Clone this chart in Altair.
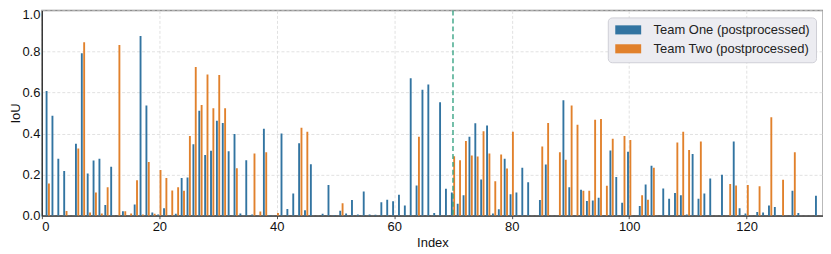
import altair as alt
import pandas as pd

series_names = ["Team One (postprocessed)", "Team Two (postprocessed)"]
colors = ["#3274a1", "#e1812c"]
x_ticks = [0, 20, 40, 60, 80, 100, 120]
y_ticks = [0.0, 0.2, 0.4, 0.6, 0.8, 1.0]
split_index = [70]

team_one = [
    0, 0.607, 0.487, 0.277, 0.218, 0, 0.35, 0.791, 0.205, 0.269,
    0.277, 0.052, 0.238, 0, 0.021, 0, 0.055, 0.875, 0.537, 0.016,
    0.006, 0.036, 0, 0.010, 0.183, 0.186, 0.348, 0.511, 0.296, 0.316,
    0.463, 0.451, 0.314, 0.398, 0.011, 0.27, 0.006, 0, 0.424, 0.003,
    0, 0.40, 0.032, 0.108, 0.353, 0.026, 0.251, 0, 0.01, 0.15,
    0.003, 0.024, 0.011, 0.076, 0.006, 0.118, 0.006, 0.005, 0.065, 0.078,
    0.07, 0.102, 0.05, 0.67, 0.147, 0.613, 0.639, 0.013, 0.553, 0.131,
    0.113, 0.058, 0.099, 0.385, 0.45, 0.176, 0.439, 0.011, 0.031, 0.278,
    0.104, 0.113, 0.233, 0.163, 0, 0.076, 0.249, 0, 0, 0.563,
    0.138, 0, 0.126, 0.071, 0.074, 0.087, 0, 0.317, 0.188, 0.063,
    0.312, 0, 0.047, 0.152, 0.243, 0, 0.133, 0.083, 0.11, 0.1,
    0.006, 0.301, 0.083, 0.108, 0.181, 0, 0.2, 0, 0.362, 0.036,
    0.011, 0, 0.018, 0.016, 0.05, 0.042, 0.003, 0, 0.121, 0.013,
    0, 0, 0.097,
]
team_two = [
    0, 0.157, 0, 0, 0.023, 0, 0.327, 0.845, 0.016, 0.113,
    0.011, 0.138, 0, 0.832, 0.021, 0.011, 0.173, 0.006, 0.262, 0.010,
    0.222, 0.184, 0.123, 0.138, 0.121, 0.388, 0.725, 0.539, 0.688, 0.524,
    0.686, 0.524, 0, 0.231, 0, 0, 0.303, 0.02, 0.309, 0,
    0.013, 0, 0, 0, 0.429, 0.409, 0, 0, 0, 0,
    0, 0.061, 0, 0, 0, 0, 0, 0, 0, 0,
    0, 0, 0, 0, 0.385, 0, 0, 0, 0, 0,
    0.29, 0.27, 0.364, 0.293, 0.288, 0.411, 0.303, 0.168, 0.298, 0.23,
    0.409, 0, 0, 0, 0, 0.337, 0.451, 0, 0.309, 0.272,
    0.537, 0.443, 0.121, 0.121, 0.468, 0.471, 0.146, 0.375, 0, 0.388,
    0.369, 0, 0.099, 0.078, 0.233, 0, 0, 0, 0.356, 0.409,
    0.32, 0, 0.362, 0, 0, 0, 0, 0.154, 0.147, 0,
    0.15, 0, 0.144, 0, 0.48, 0, 0.175, 0, 0.309, 0,
    0, 0, 0,
]

rows = []
for i, (a, b) in enumerate(zip(team_one, team_two)):
    rows.append({"idx": i, "team": series_names[0], "iou": a})
    rows.append({"idx": i, "team": series_names[1], "iou": b})
df = pd.DataFrame(rows)

FONT = "Liberation Sans"

bars = (
    alt.Chart(df)
    .transform_filter("datum.iou > 0")
    .transform_calculate(
        off=f"datum.team == '{series_names[0]}' ? -0.2 : 0.2"
    )
    .transform_calculate(x0="datum.idx + datum.off - 0.16", x1="datum.idx + datum.off + 0.16")
    .mark_bar(clip=True)
    .encode(
        x=alt.X(
            "x0:Q",
            title="Index",
            scale=alt.Scale(domain=[0, 133], nice=False, zero=False, padding=0),
            axis=alt.Axis(values=x_ticks, format="d", tickSize=3, labelPadding=2, titlePadding=3),
        ),
        x2="x1:Q",
        y=alt.Y(
            "iou:Q",
            title="IoU",
            scale=alt.Scale(domain=[0, 1], nice=False, padding=0),
            axis=alt.Axis(
                values=y_ticks,
                format=".1f",
                ticks=False,
                labelPadding=2,
                labelOffset={"condition": {"test": "datum.value >= 1", "value": 4}, "value": 0},
                titleX=-19,
            ),
        ),
        y2=alt.datum(0),
        color=alt.Color(
            "team:N",
            scale=alt.Scale(domain=series_names, range=colors),
            legend=alt.Legend(
                title=None,
                orient="top-right",
                offset=7,
                symbolType="M-2,-0.7H2V0.7H-2Z",
                symbolSize=169,
                symbolStrokeWidth=0,
                symbolOffset=8,
                labelOffset=19,
                rowPadding=5,
                padding=6,
                fillColor="#ececf1",
                strokeColor="#cfcfd6",
                cornerRadius=4,
                labelFontSize=13,
                labelFont=FONT,
                labelColor="#222222",
                labelLimit=400,
            ),
        ),
    )
)

rule = (
    alt.Chart(pd.DataFrame({"split": split_index}))
    .mark_rule(color="#2a9d7c", strokeDash=[5, 3], strokeWidth=1.3)
    .encode(x=alt.X("split:Q"))
)

chart = (
    alt.layer(bars, rule)
    .properties(
        width=784,
        height=206,
        autosize=alt.AutoSizeParams(type="none"),
        padding={"left": 34, "top": 2, "right": 0, "bottom": 36},
    )
    .configure_view(stroke="#8c8c8c", strokeWidth=1.4)
    .configure_axis(
        labelFont=FONT,
        titleFont=FONT,
        labelFontSize=13,
        titleFontSize=13,
        titleFontWeight="normal",
        labelColor="#111111",
        titleColor="#111111",
        gridColor="#d9d9d9",
        gridDash=[3, 2],
        gridWidth=0.8,
        domainColor="#333333",
        domainWidth=1.2,
        tickColor="#555555",
    )
)

chart.save("out.html", embed_options={"renderer": "svg", "actions": False})
